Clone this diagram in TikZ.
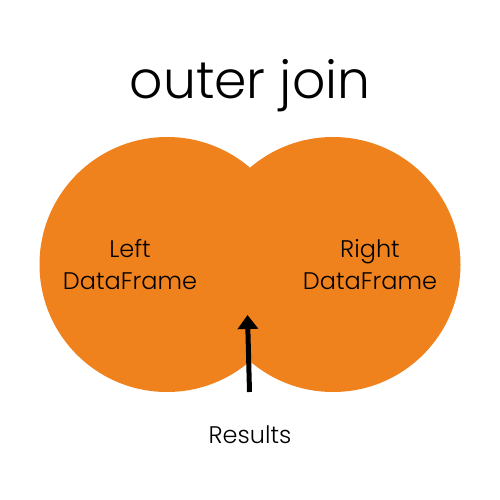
\documentclass[tikz,border=0pt]{standalone}
\usepackage{fontspec}
\setmainfont{Poppins}[UprightFont=* Light]
\usetikzlibrary{arrows.meta}
\definecolor{vorange}{HTML}{F0821E}
\begin{document}
\begin{tikzpicture}[x=1pt,y=-1pt,
  blob/.style={fill=vorange,draw=none},
  lbl/.style={font=\fontsize{24}{32}\selectfont,align=center,text=black},
  arr/.style={line width=5pt,-{Triangle[length=14pt,width=20pt]}}]
\useasboundingbox[fill=white] (0,0) rectangle (500,500);
\node[font=\fontsize{52}{60}\selectfont] (title) at (250,86) {outer join};
\fill[blob] (167,264.5) circle[radius=127.5];
\fill[blob] (333,264.5) circle[radius=127.5];
\node[lbl] (left) at (130,265) {Left\\DataFrame};
\node[lbl] (right) at (370,265) {Right\\DataFrame};
\coordinate (tail) at (249.5,392);
\coordinate (tip) at (247.5,315);
\draw[arr] (tail) -- (tip);
\node[lbl] (res) at (250,435) {Results};
\end{tikzpicture}
\end{document}
